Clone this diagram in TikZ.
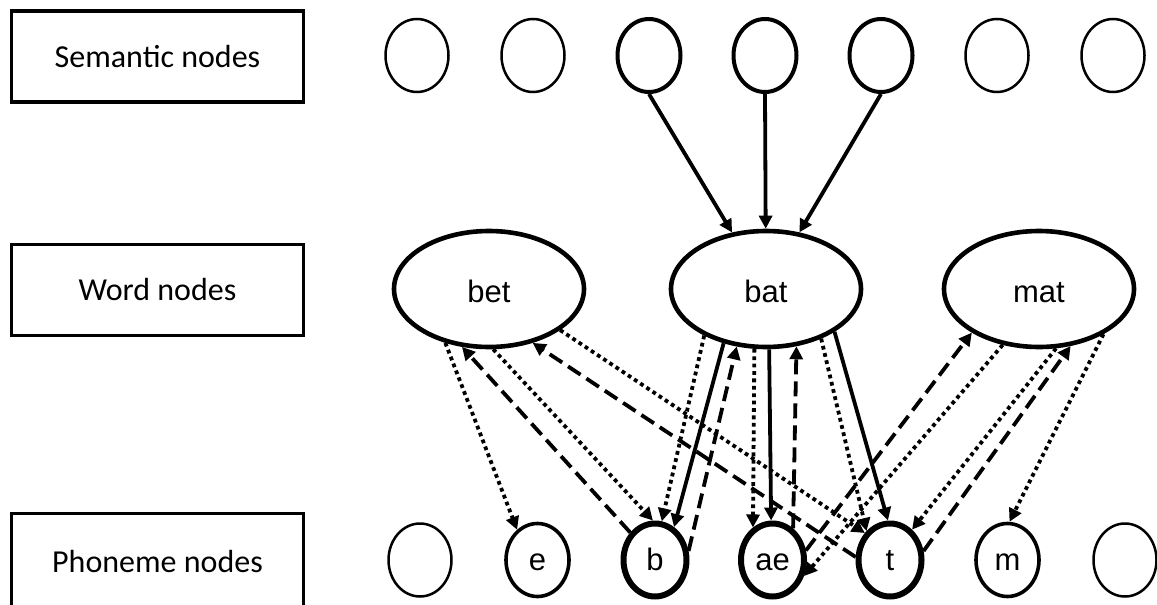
\documentclass[tikz,border=0pt]{standalone}
\usepackage{fontspec}
\setmainfont{Carlito}
\newfontfamily\labfont{Liberation Sans}
\usetikzlibrary{shapes.geometric,arrows.meta}

\begin{document}
\begin{tikzpicture}[x=1pt,y=-1pt,
  layerbox/.style={draw,line width=3.5pt,minimum width=292pt,minimum height=91pt,
    inner sep=0pt,font=\fontsize{32}{38}\selectfont},
  unit/.style={ellipse,draw,inner sep=0pt,minimum width=63pt,minimum height=73pt,
    line width=2.5pt,font=\labfont\fontsize{31}{37}\selectfont,
    text height=20pt,text depth=0pt},
  active/.style={unit,line width=4pt},
  phon/.style={unit,line width=3.6pt},
  strong/.style={unit,line width=6pt},
  word/.style={ellipse,draw,inner sep=0pt,minimum width=190pt,minimum height=116pt,
    line width=4.6pt,font=\labfont\fontsize{31}{37}\selectfont,
    text height=26pt,text depth=0pt},
  link/.style={line width=3.8pt,-{Triangle[length=13pt,width=13pt]}},
  dotlink/.style={link,dash pattern=on 3.8pt off 3.6pt},
  dashlink/.style={link,dash pattern=on 15pt off 7pt}
]
\clip (0,0) rectangle (1157,605);

% layer labels
\node[layerbox] (lsem) at (157.5,56.5) {Semantic nodes};
\node[layerbox] (lword) at (157.5,290) {Word nodes};
\node[layerbox,minimum height=96pt] (lphon) at (157.5,561.5) {Phoneme nodes};

% semantic layer
\node[unit]   (s1) at (417,55.5) {};
\node[unit]   (s2) at (533,55.5) {};
\node[active] (s3) at (649,55.5) {};
\node[active] (s4) at (765,55.5) {};
\node[active] (s5) at (881,55.5) {};
\node[unit]   (s6) at (997,55.5) {};
\node[unit]   (s7) at (1113,55.5) {};

% word layer
\node[word] (bet) at (489,289) {bet};
\node[word] (bat) at (766,289) {bat};
\node[word] (mat) at (1039,289) {mat};

% phoneme layer
\node[unit]   (p1) at (420,560) {};
\node[phon]   (e)  at (537.5,560) {e};
\node[strong] (b)  at (655,560) {b};
\node[strong] (ae) at (772.5,560) {ae};
\node[strong] (t)  at (890,560) {t};
\node[phon]   (m)  at (1007.5,560) {m};
\node[unit]   (p7) at (1125,560) {};

% semantic to word
\draw[link] (s3.south) -- (bat);
\draw[link] (s4.south) -- (bat);
\draw[link] (s5.south) -- (bat);

% bet
\draw[dotlink]  (bet.-129) -- (e.124);
\draw[dashlink] (b.132) -- (bet.-115);
\draw[dotlink]  (bet.-86) -- (b.93);
\draw[dashlink] (t.175) -- (bet.-51);
\draw[dotlink]  (bet.-30) -- (t.133);

% bat
\draw[dotlink]  (bat.-143) -- (b.80);
\draw[link]     (bat.-128) -- (b.60);
\draw[dashlink] (b.15) -- (bat.-117);
\draw[dotlink]  (bat.-101) -- (ae.121);
\draw[link]     (bat.-87) -- (ae.92);
\draw[dashlink] (ae.57) -- (bat.-62);
\draw[dotlink]  (bat.-42) -- (t.129);
\draw[link]     (bat.-32) -- (t.93);

% mat
\draw[dashlink] (ae.16) -- (mat.-147);
\draw[dotlink]  (mat.-123) -- (ae.-27);
\draw[dotlink]  (mat.-74) -- (t.54);
\draw[dashlink] (t.15) -- (mat.-61);
\draw[dotlink]  (mat.-35) -- (m.87);
\end{tikzpicture}
\end{document}
